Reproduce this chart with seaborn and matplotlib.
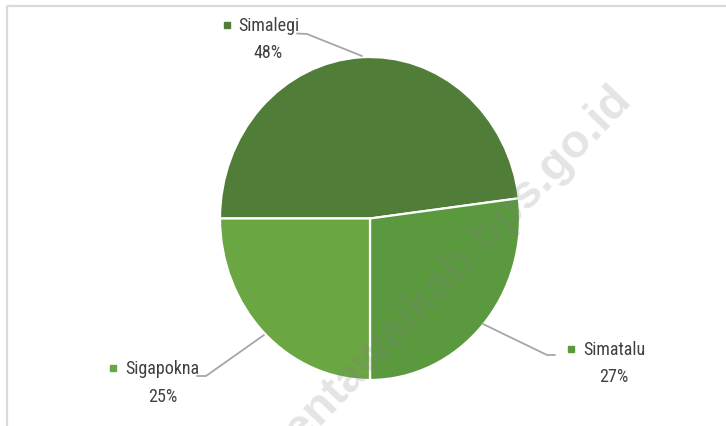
import matplotlib.pyplot as plt
import seaborn as sns

# Data
desa = ['Simalegi', 'Simatalu', 'Sigapokna']
persen = [48, 27, 25]
warna = ['#507D37', '#5B993E', '#6AA641']

sns.set_style("white")
plt.rcParams['font.family'] = ['Liberation Sans Narrow', 'DejaVu Sans Condensed',
                               'Roboto Condensed', 'DejaVu Sans']

fig = plt.figure(figsize=(7.26, 4.27), dpi=100)
W, H = 726, 427

# pie axes (slightly taller than wide, as in the reference)
ax = fig.add_axes([220 / W, (H - 381) / H, 300 / W, 323 / H])
ax.pie(persen, colors=warna, startangle=180, counterclock=False,
       radius=1, wedgeprops=dict(edgecolor='white', linewidth=1.6))
ax.set_aspect('auto')
ax.set_xlim(-1, 1)
ax.set_ylim(-1, 1)
ax.axis('off')

# overlay in pixel coordinates for labels, leaders, frame
ov = fig.add_axes([0, 0, 1, 1], facecolor='none')
ov.set_xlim(0, W)
ov.set_ylim(H, 0)
ov.axis('off')

# frame lines
ov.plot([7, W], [7, 7], color='#D9D9D9', lw=1.6, solid_capstyle='butt')
ov.plot([7, 7], [7, H], color='#D9D9D9', lw=1.6, solid_capstyle='butt')

# label layout: marker x, name center x, name y, pct y, leader points
layout = {
    'Simalegi': dict(mx=227, cx=268.5, ny=26, py=53,
                     lead=[(297, 34.5), (307, 35), (362, 57)]),
    'Simatalu': dict(mx=571, cx=614, ny=350, py=377,
                     lead=[(483, 325), (547, 356), (555, 356)]),
    'Sigapokna': dict(mx=113, cx=162.5, ny=369, py=397,
                      lead=[(264, 336), (206, 377), (197, 377)]),
}

for nama, p, c in zip(desa, persen, warna):
    L = layout[nama]
    xs, ys = zip(*L['lead'])
    ov.plot(xs, ys, color='#A6A6A6', lw=1.3)
    ov.plot(L['mx'], L['ny'], marker='s', ms=5, color=c, ls='none')
    ov.text(L['cx'], L['ny'], nama, ha='center', va='center',
            fontsize=13, color='#404040')
    ov.text(L['cx'], L['py'], f'{p}%', ha='center', va='center',
            fontsize=13, color='#404040')

# watermark
ov.text(624, 92, 'mentawaikab.bps.go.id', rotation=46, rotation_mode='anchor',
        ha='right', va='center', fontsize=34, fontweight='bold',
        color='#808080', alpha=0.21, family=['Liberation Sans', 'DejaVu Sans'])

fig.savefig('out.png', dpi=100)
plt.close(fig)
